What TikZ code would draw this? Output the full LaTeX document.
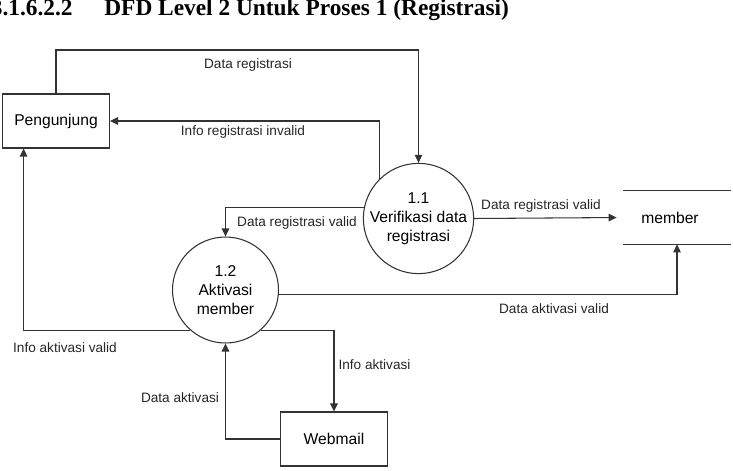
\documentclass[tikz,border=0pt]{standalone}
\usepackage{fontspec}
\setmainfont{Liberation Sans}
\newfontfamily\titrefont{Liberation Serif}
\usetikzlibrary{arrows.meta,calc}
\begin{document}
\begin{tikzpicture}[x=0.02cm,y=-0.02cm,>={Triangle[length=0.16cm,width=0.15cm]},
  flux/.style={->,draw=black!80,line width=0.6pt},
  etiq/.style={font=\fontsize{7.75}{9}\selectfont,text=black!85,inner sep=0pt},
  entite/.style={draw=black!80,line width=0.6pt,minimum width=2.14cm,minimum height=1.08cm,font=\fontsize{8.9}{10.8}\selectfont},
  proses/.style={draw=black!80,line width=0.6pt,circle,minimum size=2.12cm,inner sep=0pt,align=center,font=\fontsize{8.9}{10.8}\selectfont}]
\useasboundingbox (0,0) rectangle (733,470);

\node [anchor=base east,inner sep=0pt,font=\titrefont\bfseries\fontsize{13.3}{15}\selectfont] (num) at (73,15) {3.1.6.2.2};
\node [anchor=base west,inner sep=0pt,font=\titrefont\bfseries\fontsize{13.3}{15}\selectfont] (titre) at (104,15) {DFD Level 2 Untuk Proses 1 (Registrasi)};

\node [entite] (peng) at (56,121) {Pengunjung};
\node [entite] (web) at (334,439) {Webmail};
\node [proses] (p11) at (418.5,218.5) {1.1\\Verifikasi data\\registrasi};
\node [proses] (p12) at (225.5,290) {1.2\\Aktivasi\\member};
\node [minimum width=2.16cm,minimum height=1.06cm,inner sep=0pt,font=\fontsize{8.9}{10.8}\selectfont] (member) at (677,217.5) {member\kern0.28cm\relax};
\draw [draw=black!80,line width=0.6pt] (member.north west) -- (member.north east) (member.south west) -- (member.south east); %le stockage

\coordinate (haut) at (0,50);
\draw [flux] (peng.north) -- (peng.north |- haut) -| (p11.north);
\draw [flux] (p11.north west) |- (peng.east);
\draw [flux,shorten >=0.12cm] (p11.east) -- (member.west);
\draw [flux] (p11.169) -| (p12.north);
\draw [flux] (p12.-5) -| (member.south);
\draw [flux] (p12.229) -| ($(peng.south west)!0.2!(peng.south east)$);
\draw [flux] (p12.-49) -| (web.north);
\draw [flux] (web.west) -| (p12.south);

%les etiquettes des flux
\node [etiq,anchor=base] (l1) at (248,68) {Data registrasi};
\node [etiq,anchor=base] (l2) at (243,135.5) {Info registrasi invalid};
\node [etiq,anchor=base] (l3) at (541,209) {Data registrasi valid};
\node [etiq,anchor=base] (l4) at (297,226.5) {Data registrasi valid};
\node [etiq,anchor=base] (l5) at (554,313) {Data aktivasi valid};
\node [etiq,anchor=base] (l6) at (65,352.5) {Info aktivasi valid};
\node [etiq,anchor=base] (l7) at (374.5,369) {Info aktivasi};
\node [etiq,anchor=base] (l8) at (180,402.5) {Data aktivasi};

\end{tikzpicture}
\end{document}
